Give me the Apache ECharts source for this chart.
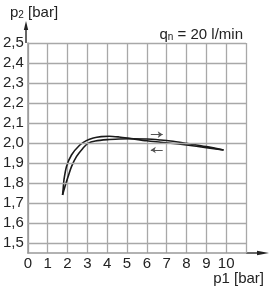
<!DOCTYPE html>
<html>
<head>
<meta charset="utf-8">
<script src="https://cdn.jsdelivr.net/npm/echarts@6/dist/echarts.min.js"></script>
<style>
  html, body { margin: 0; padding: 0; background: #fff; }
  #chart { width: 272px; height: 288px; }
</style>
</head>
<body>
<div id="chart"></div>
<script>
// Kennlinie p2 über p1, qn = 20 l/min
const xTicks = [0, 1, 2, 3, 4, 5, 6, 7, 8, 9, 10];
const yTicks = [1.5, 1.6, 1.7, 1.8, 1.9, 2.0, 2.1, 2.2, 2.3, 2.4, 2.5];

// Kurve 1 (steiler Anstieg, Buckel bei 4 bar)
const p1Rise = [1.75, 1.78, 1.82, 1.95, 2.2, 2.62, 2.95, 3.3, 3.7, 4.1, 4.6, 5.2, 6.0, 6.7, 7.2, 8.0, 9.0, 9.87];
const p2Rise = [1.74, 1.77, 1.815, 1.882, 1.94, 1.99, 2.012, 2.025, 2.032, 2.034, 2.03, 2.022, 2.011, 2.004, 1.999, 1.99, 1.977, 1.965];

// Kurve 2 (flacher Anstieg)
const p1Fall = [1.75, 1.85, 2.03, 2.2, 2.45, 2.78, 3.03, 3.4, 4.0, 4.6, 5.2, 6.0, 6.7, 7.2, 8.0, 9.0, 9.87];
const p2Fall = [1.74, 1.775, 1.832, 1.882, 1.932, 1.974, 1.998, 2.01, 2.017, 2.02, 2.021, 2.02, 2.015, 2.01, 1.998, 1.982, 1.965];

// Richtungspfeile
const arrowRight = [[6.2, 2.042], [6.8, 2.042]];
const arrowLeft = [[6.8, 1.965], [6.2, 1.965]];

const zip = (xs, ys) => xs.map((x, i) => [x, ys[i]]);
const fmt = v => v.toFixed(1).replace('.', ',');

const chart = echarts.init(document.getElementById('chart'));

const font = 'Liberation Sans, Arial, sans-serif';
const txt = { fontSize: 15, color: '#222', fontFamily: font, fontWeight: 'normal' };
const sub = { fontSize: 10, color: '#222', fontFamily: font, fontWeight: 'normal', verticalAlign: 'bottom', padding: [4, 0, 0, 0] };

const option = {
  animation: false,
  textStyle: { fontFamily: font },
  title: [
    {
      left: 5, top: 0,
      text: '{a|p}{s|2}{a| [bar]}',
      textStyle: { fontWeight: 'normal', rich: { a: txt, s: sub } }
    },
    {
      right: 24, top: 22,
      text: '{a|q}{s|n}{a| = 20 l/min}',
      textStyle: { fontWeight: 'normal', rich: { a: txt, s: sub } }
    },
    {
      right: 3, top: 266,
      text: 'p1 [bar]',
      textStyle: txt
    }
  ],
  grid: { left: 26, right: 26, top: 43, bottom: 35 },
  xAxis: {
    type: 'value',
    min: 0,
    max: 11,
    interval: 1,
    axisLine: { show: true, lineStyle: { color: '#999', width: 1.5 } },
    axisTick: { show: false },
    splitLine: { show: true, lineStyle: { color: '#a8a8a8', width: 1.3 } },
    axisLabel: {
      margin: 3,
      fontSize: 15,
      color: '#222',
      formatter: v => (xTicks.indexOf(v) >= 0 ? String(v) : '')
    }
  },
  yAxis: {
    type: 'value',
    min: 1.45,
    max: 2.5,
    axisLine: { show: true, lineStyle: { color: '#999', width: 1.5 } },
    axisTick: { show: false },
    splitLine: { show: false },
    axisLabel: {
      customValues: yTicks,
      margin: 4,
      fontSize: 15,
      color: '#222',
      formatter: v => fmt(v)
    }
  },
  graphic: [
    { type: 'line', shape: { x1: 26, y1: 43, x2: 26, y2: 27 }, style: { stroke: '#333', lineWidth: 1.5 } },
    { type: 'polygon', shape: { points: [[26, 21], [23.8, 30], [28.2, 30]] }, style: { fill: '#222' } },
    { type: 'line', shape: { x1: 246, y1: 253, x2: 260, y2: 253 }, style: { stroke: '#333', lineWidth: 1.5 } },
    { type: 'polygon', shape: { points: [[269, 253], [257, 250.8], [257, 255.2]] }, style: { fill: '#222' } }
  ],
  series: [
    {
      name: 'grid',
      type: 'line',
      z: 1,
      data: [],
      symbol: 'none',
      markLine: {
        silent: true,
        symbol: 'none',
        label: { show: false },
        lineStyle: { color: '#a8a8a8', width: 1.3, type: 'solid' },
        data: yTicks.map(v => ({ yAxis: v }))
      }
    },
    {
      name: 'Kurve 1',
      type: 'line',
      z: 3,
      smooth: 0.3,
      symbol: 'none',
      data: zip(p1Rise, p2Rise),
      lineStyle: { color: '#1a1a1a', width: 1.6 }
    },
    {
      name: 'Kurve 2',
      type: 'line',
      z: 3,
      smooth: 0.3,
      symbol: 'none',
      data: zip(p1Fall, p2Fall),
      lineStyle: { color: '#1a1a1a', width: 1.6 }
    },
    {
      name: 'Pfeile',
      type: 'lines',
      coordinateSystem: 'cartesian2d',
      z: 3,
      symbol: ['none', 'arrow'],
      symbolSize: 5,
      lineStyle: { color: '#555', width: 1, opacity: 1 },
      data: [{ coords: arrowRight }, { coords: arrowLeft }]
    }
  ]
};

chart.setOption(option);
</script>
</body>
</html>
